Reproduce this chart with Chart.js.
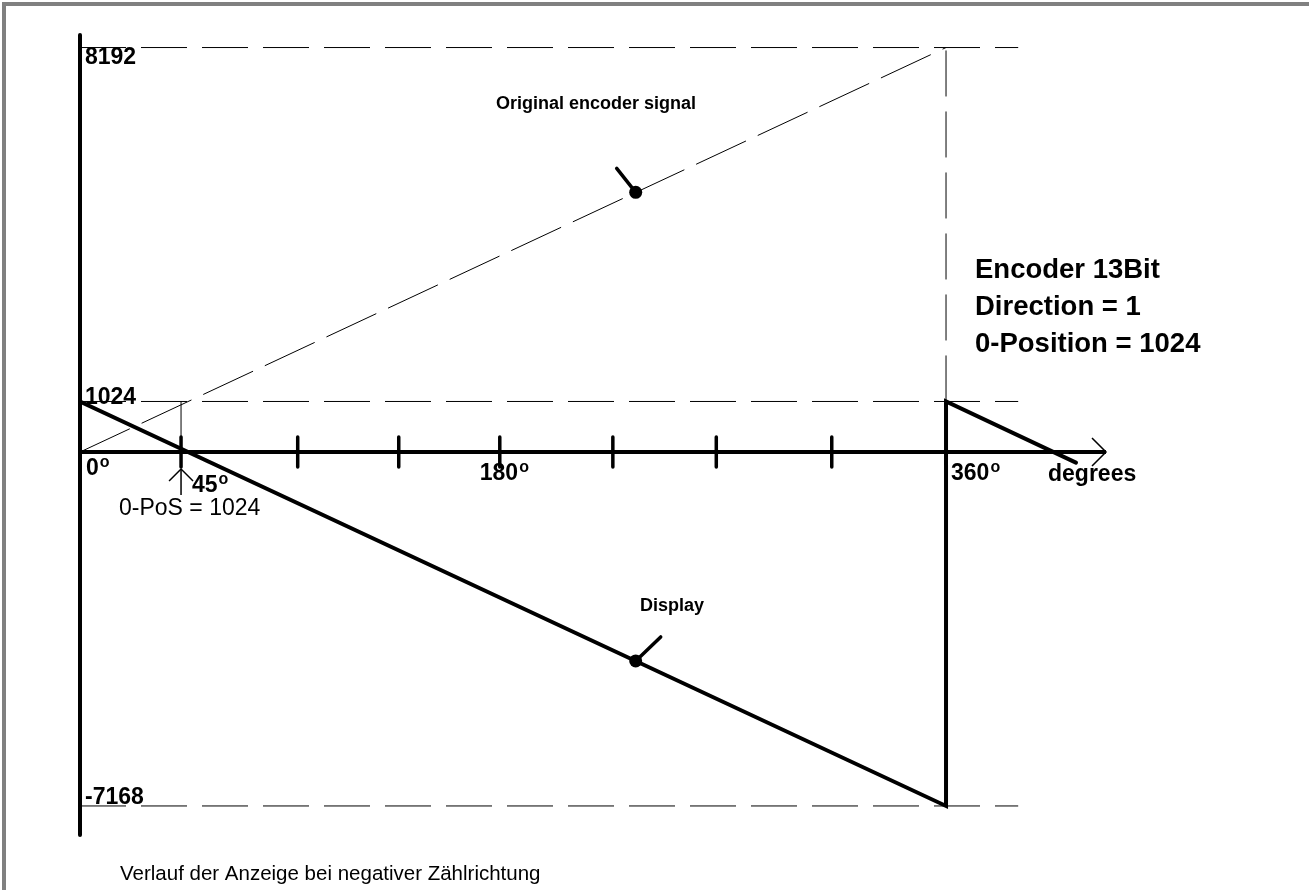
<!DOCTYPE html>
<html>
<head>
<meta charset="utf-8">
<script src="https://cdn.jsdelivr.net/npm/chart.js@4.4.0/dist/chart.umd.min.js"></script>
<style>
    html, body { margin: 0; padding: 0; background: #fff; }
</style>
</head>
<body>
<canvas id="grafik" width="1309" height="890"></canvas>
<script>
// -------- DATEN --------
const encoderX = [0, 360];
const encoderY = [0, 8192];
const displayX = [0, 360, 360, 414];
const displayY = [1024, -7168, 1024, -214];
const pegel = [8192, 1024, -7168];          // dashed levels + y labels
const teilung = [42, 90.5, 132.5, 174.5, 221.5, 264.5, 312.5];   // tick marks as drawn
const gradWerte = [0, 42, 174.5, 360];
const gradText = ["0", "45", "180", "360"];
const punktX = [231, 231];
const punktY = [5259, -4230];
const hilfsEnde = 390;

const FONT = '"Liberation Sans", Arial, Helvetica, sans-serif';

function linie(xs, ys) {
    return xs.map((x, i) => ({ x: x, y: ys[i] }));
}

const datasets = [];

// dashed levels
pegel.forEach(p => {
    datasets.push({
        data: linie([0, hilfsEnde], [p, p]),
        showLine: true, borderColor: "#000", borderWidth: 1,
        borderDash: [46, 15], pointRadius: 0, order: 5
    });
});
// vertical dashed at 360
datasets.push({
    data: linie([360, 360], [1024, 8192]),
    showLine: true, borderColor: "#000", borderWidth: 1,
    borderDash: [46, 15], pointRadius: 0, order: 5
});
// thin line at 45 deg mark
datasets.push({
    data: linie([gradWerte[1], gradWerte[1]], [0, 1024]),
    showLine: true, borderColor: "#000", borderWidth: 1,
    pointRadius: 0, order: 5
});
// original encoder signal
datasets.push({
    data: linie(encoderX, encoderY),
    showLine: true, borderColor: "#000", borderWidth: 1,
    borderDash: [55, 13], pointRadius: 0, order: 4
});
// display
datasets.push({
    data: linie(displayX, displayY),
    showLine: true, borderColor: "#000", borderWidth: 4,
    borderCapStyle: "round", borderJoinStyle: "miter",
    pointRadius: 0, order: 2
});
// dots
datasets.push({
    data: linie(punktX, punktY),
    showLine: false, pointRadius: 6.5, pointBackgroundColor: "#000",
    pointBorderWidth: 0, order: 1
});

function gradLabel(c, text, x, y) {
    c.font = "bold 23px " + FONT;
    c.fillText(text, x, y);
    const w = c.measureText(text).width;
    c.font = "bold 16px " + FONT;
    c.fillText("o", x + w + 1, y - 8);
}

const achsen = {
    id: "achsen",
    beforeDraw(chart) {
        const c = chart.ctx;
        c.save();
        c.fillStyle = "#fff";
        c.fillRect(0, 0, chart.width, chart.height);
        c.fillStyle = "#808080";
        c.fillRect(2, 2, chart.width - 2, 4);
        c.fillRect(2, 2, 4, chart.height - 2);
        c.restore();
    },
    afterDatasetsDraw(chart) {
        const c = chart.ctx, sx = chart.scales.x, sy = chart.scales.y, a = chart.chartArea;
        const x0 = sx.getPixelForValue(0), y0 = sy.getPixelForValue(0);
        c.save();
        c.strokeStyle = "#000";
        c.fillStyle = "#000";
        c.lineCap = "round";

        // axes
        c.lineWidth = 4;
        c.beginPath(); c.moveTo(x0, a.top); c.lineTo(x0, a.bottom); c.stroke();
        c.lineCap = "butt";
        c.beginPath(); c.moveTo(x0, y0); c.lineTo(a.right, y0); c.stroke();
        c.lineWidth = 1.5;
        c.beginPath();
        c.moveTo(a.right - 14, y0 - 14); c.lineTo(a.right, y0); c.lineTo(a.right - 14, y0 + 14);
        c.stroke();

        // tick marks
        c.lineCap = "round";
        c.lineWidth = 3.5;
        teilung.forEach(d => {
            const px = sx.getPixelForValue(d);
            c.beginPath(); c.moveTo(px, y0 - 15); c.lineTo(px, y0 + 15); c.stroke();
        });

        // leader lines
        const p1x = sx.getPixelForValue(punktX[0]), p1y = sy.getPixelForValue(punktY[0]);
        const p2x = sx.getPixelForValue(punktX[1]), p2y = sy.getPixelForValue(punktY[1]);
        c.beginPath(); c.moveTo(p1x, p1y); c.lineTo(p1x - 19, p1y - 24); c.stroke();
        c.beginPath(); c.moveTo(p2x, p2y); c.lineTo(p2x + 25, p2y - 24); c.stroke();

        // y labels
        c.font = "bold 23px " + FONT;
        c.textBaseline = "alphabetic";
        c.fillText(String(pegel[0]), x0 + 5, sy.getPixelForValue(pegel[0]) + 16);
        c.fillText(String(pegel[1]), x0 + 5, sy.getPixelForValue(pegel[1]) + 3);
        c.fillText(String(pegel[2]), x0 + 5, sy.getPixelForValue(pegel[2]) - 2);

        // degree labels
        const g = gradWerte.map(v => sx.getPixelForValue(v));
        gradLabel(c, gradText[0], g[0] + 6, y0 + 23);
        gradLabel(c, gradText[1], g[1] + 11, y0 + 40);
        gradLabel(c, gradText[2], g[2] - 20, y0 + 28);
        gradLabel(c, gradText[3], g[3] + 5, y0 + 28);
        c.font = "bold 23px " + FONT;
        c.fillText("degrees", 1048, y0 + 29);

        // arrow at 45
        c.lineWidth = 1.5;
        c.lineCap = "butt";
        c.beginPath(); c.moveTo(g[1], y0 + 17); c.lineTo(g[1], y0 + 43); c.stroke();
        c.beginPath(); c.moveTo(g[1] - 12, y0 + 29); c.lineTo(g[1], y0 + 17); c.lineTo(g[1] + 12, y0 + 29); c.stroke();

        c.font = "23px " + FONT;
        c.fillText("0-PoS = 1024", 119, y0 + 63);

        // annotations
        c.font = "bold 18px " + FONT;
        c.textAlign = "center";
        c.fillText("Original encoder signal", 596, 109);
        c.fillText("Display", 672, 611);
        c.textAlign = "left";

        c.font = "bold 27.5px " + FONT;
        c.fillText("Encoder 13Bit", 975, 278);
        c.fillText("Direction = 1", 975, 315);
        c.fillText("0-Position = 1024", 975, 352);

        c.font = "20.5px " + FONT;
        c.fillText("Verlauf der Anzeige bei negativer Z\u00e4hlrichtung", 120, 880);
        c.restore();
    }
};

new Chart(document.getElementById("grafik"), {
    type: "scatter",
    data: { datasets: datasets },
    options: {
        responsive: false,
        animation: false,
        layout: { padding: { left: 80, right: 203, top: 35, bottom: 55 } },
        scales: {
            x: { type: "linear", min: 0, max: 426.5, display: false },
            y: { type: "linear", min: -7756, max: 8446, display: false }
        },
        plugins: { legend: { display: false }, tooltip: { enabled: false } }
    },
    plugins: [achsen]
});
</script>
</body>
</html>
